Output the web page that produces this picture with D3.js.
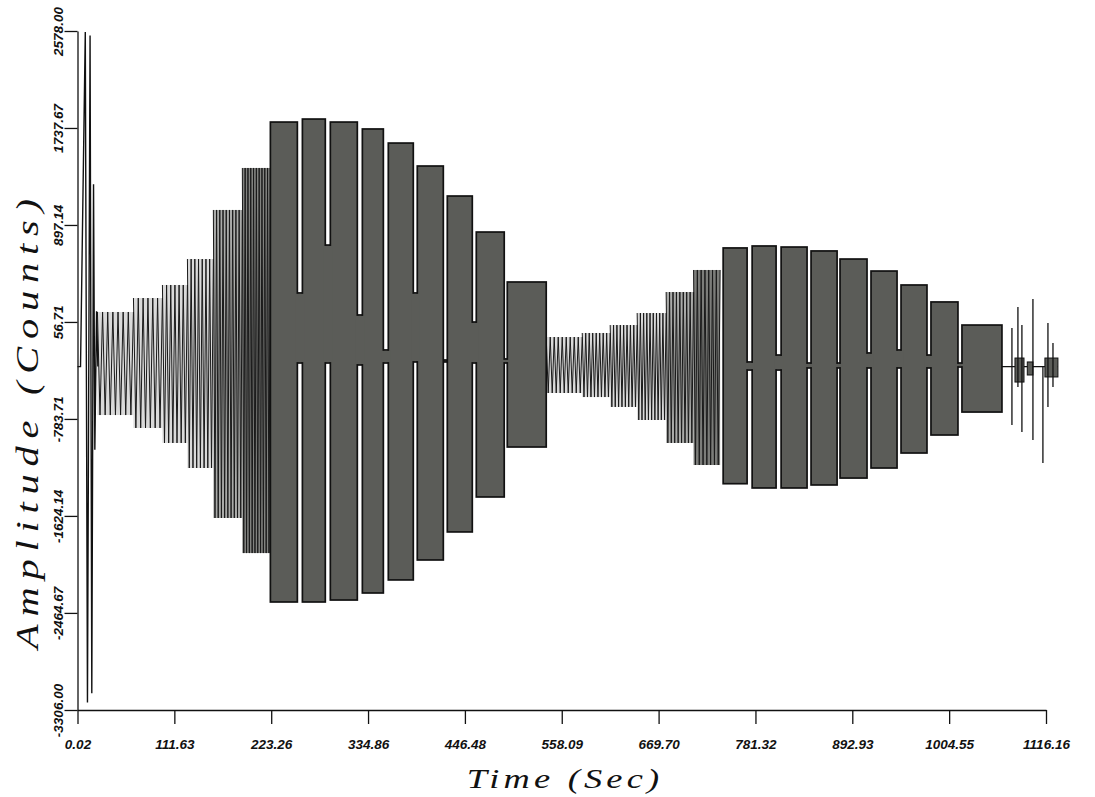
<!DOCTYPE html>
<meta charset="utf-8">
<style>
    body {
        margin: 0;
        background-color: #fff;
    }

    .axis path, .axis line {
        stroke: #111;
        stroke-width: 1.3;
    }

    .axis text {
        font-family: "Liberation Sans", Arial, sans-serif;
        font-style: italic;
        font-weight: bold;
        font-size: 13.5px;
        fill: #111;
    }

    .title {
        font-family: "Liberation Serif", serif;
        font-style: italic;
        fill: #111;
    }
</style>
<body>
<script src="https://cdnjs.cloudflare.com/ajax/libs/d3/7.8.5/d3.min.js"></script>
<script>
    // axis ticks as printed
    var xTicks = [0.02, 111.63, 223.26, 334.86, 446.48, 558.09, 669.70, 781.32, 892.93, 1004.55, 1116.16];
    var yTicks = [-3306.00, -2464.67, -1624.14, -783.71, 56.71, 897.14, 1737.67, 2578.00];

    // resting level of the trace (counts)
    var centerLevel = -330;

    // opening transient (sec, counts)
    var transT = [0, 3.5, 9, 11.5, 14.5, 16.5, 18.5, 20, 22, 23.5];
    var transV = [-330, -330, 2570, -3240, 2540, -3160, 1250, -1050, 150, -330];

    // low frequency steps where single cycles are visible
    var stepT0 = [23.0, 64.5, 97.9, 126.7, 156.6, 190.0, 540.2, 581.7, 613.9, 645.0, 678.4, 710.0];
    var stepT1 = [64.5, 97.9, 126.7, 156.6, 190.0, 222.3, 581.7, 613.9, 645.0, 678.4, 710.0, 740.6];
    var stepHi = [143, 264, 377, 602, 1027, 1391, -74, -39, 30, 134, 316, 507];
    var stepLo = [-750, -862, -992, -1209, -1642, -1946, -559, -594, -680, -793, -992, -1183];
    var stepCycles = [7, 6, 6, 7, 9, 10, 9, 8, 8, 9, 8, 7];

    // higher frequency steps, drawn solid
    var blockT0 = [222.3, 259.2, 291.4, 328.3, 358.2, 391.6, 426.2, 459.6, 495.3,
                   744.1, 777.5, 810.9, 845.4, 878.8, 914.5, 949.1, 983.6, 1019.3];
    var blockT1 = [253.4, 285.6, 322.5, 352.5, 387.0, 421.6, 455.0, 491.8, 540.2,
                   771.7, 805.1, 840.8, 875.4, 909.9, 944.5, 979.0, 1014.7, 1065.4];
    var blockHi = [1789, 1815, 1789, 1729, 1607, 1408, 1148, 836, 403,
                   698, 715, 706, 672, 602, 498, 377, 230, 30];
    var blockLo = [-2370, -2370, -2353, -2292, -2179, -2006, -1763, -1460, -1027,
                   -1345, -1382, -1382, -1356, -1296, -1209, -1079, -923, -724];

    // amplitude during the switch between block i and block i+1
    var bridgeHi = [308, 723, 117, -186, 308, -273, 56, -264, null,
                    -290, -230, -299, -299, -212, -186, -230, -299];
    var bridgeLo = [-299, -299, -316, -299, -290, -290, -299, -299, null,
                    -360, -360, -342, -342, -342, -342, -342, -334];

    // quiet tail and the spikes in it
    var flatT0 = [1065.4], flatT1 = [1130];
    var spikeT = [1076.9, 1083.8, 1088.4, 1101.1, 1112.6, 1118.4, 1124.2];
    var spikeHi = [4, 186, 30, 256, -330, 48, -126];
    var spikeLo = [-836, -507, -897, -966, -1166, -680, -507];
    var blobT0 = [1080.4, 1094.6, 1114.9];
    var blobT1 = [1090.8, 1101.1, 1129.9];
    var blobHi = [-256, -290, -256];
    var blobLo = [-464, -403, -420];

    var width = 1095, height = 797;
    var margin = {left: 77.5, right: 1046, top: 31, bottom: 710};

    var svg = d3.select("body").append("svg")
        .attr("width", width)
        .attr("height", height);

    var x = d3.scaleLinear().domain([0.02, 1116.16]).range([margin.left, margin.right]);
    var y = d3.scaleLinear().domain([-3306, 2578]).range([margin.bottom, margin.top]);

    var blockFill = "#5b5c58", ink = "#111";

    var blocks = blockT0.map(function(t, i) {
        return {t0: t, t1: blockT1[i], hi: blockHi[i], lo: blockLo[i]};
    });
    var steps = stepT0.map(function(t, i) {
        return {t0: t, t1: stepT1[i], hi: stepHi[i], lo: stepLo[i], n: stepCycles[i]};
    });
    var bridges = [];
    bridgeHi.forEach(function(h, i) {
        if (h === null) return;
        bridges.push({t0: blockT1[i], t1: blockT0[i + 1], hi: h, lo: bridgeLo[i]});
    });

    // steps get darker as they approach the size of the following block
    var shade = d3.scaleLinear().domain([0.45, 0.85]).range(["#dadada", "#767774"]).clamp(true);
    steps.forEach(function(s) {
        var next = blocks.find(function(b) { return b.t0 >= s.t1 - 1; });
        s.ratio = (s.hi - s.lo) / (next.hi - next.lo);
    });

    var g = svg.append("g");

    // flat parts of the trace
    g.selectAll("line.flat")
        .data(flatT0)
        .join("line")
        .attr("x1", function(d) { return x(d); })
        .attr("x2", function(d, i) { return x(flatT1[i]); })
        .attr("y1", y(centerLevel))
        .attr("y2", y(centerLevel))
        .attr("stroke", ink)
        .attr("stroke-width", 1.3);

    g.selectAll("rect.stepbg")
        .data(steps)
        .join("rect")
        .attr("x", function(d) { return x(d.t0); })
        .attr("width", function(d) { return x(d.t1) - x(d.t0); })
        .attr("y", function(d) { return y(d.hi); })
        .attr("height", function(d) { return y(d.lo) - y(d.hi); })
        .attr("fill", function(d) { return shade(d.ratio); });

    var line = d3.line().x(function(d) { return x(d[0]); }).y(function(d) { return y(d[1]); });

    g.selectAll("path.step")
        .data(steps)
        .join("path")
        .attr("d", function(s) {
            var pts = [], k, m = s.n * 2;
            for (k = 0; k <= m; k++) {
                pts.push([s.t0 + (s.t1 - s.t0) * k / m, k % 2 ? s.lo : s.hi]);
            }
            return line(pts);
        })
        .attr("fill", "none")
        .attr("stroke", "#1a1a1a")
        .attr("stroke-width", 1);

    // bridges (outlined), then blocks, then re-fill bridges to merge the outlines
    g.selectAll("rect.bridge")
        .data(bridges)
        .join("rect")
        .attr("x", function(d) { return x(d.t0); })
        .attr("width", function(d) { return x(d.t1) - x(d.t0); })
        .attr("y", function(d) { return y(d.hi); })
        .attr("height", function(d) { return y(d.lo) - y(d.hi); })
        .attr("fill", blockFill)
        .attr("stroke", ink)
        .attr("stroke-width", 1.7);

    g.selectAll("rect.block")
        .data(blocks)
        .join("rect")
        .attr("x", function(d) { return x(d.t0); })
        .attr("width", function(d) { return x(d.t1) - x(d.t0); })
        .attr("y", function(d) { return y(d.hi); })
        .attr("height", function(d) { return y(d.lo) - y(d.hi); })
        .attr("fill", blockFill)
        .attr("stroke", ink)
        .attr("stroke-width", 1.7);

    g.selectAll("rect.merge")
        .data(bridges.filter(function(d) { return y(d.lo) - y(d.hi) > 2; }))
        .join("rect")
        .attr("x", function(d) { return x(d.t0) - 2; })
        .attr("width", function(d) { return x(d.t1) - x(d.t0) + 4; })
        .attr("y", function(d) { return y(d.hi) + 0.9; })
        .attr("height", function(d) { return y(d.lo) - y(d.hi) - 1.8; })
        .attr("fill", blockFill);

    // opening transient
    g.append("path")
        .attr("d", line(transT.map(function(t, i) { return [t, transV[i]]; })))
        .attr("fill", "none")
        .attr("stroke", ink)
        .attr("stroke-width", 1.4);

    // tail noise
    g.selectAll("rect.blob")
        .data(blobT0)
        .join("rect")
        .attr("x", function(d) { return x(d); })
        .attr("width", function(d, i) { return x(blobT1[i]) - x(d); })
        .attr("y", function(d, i) { return y(blobHi[i]); })
        .attr("height", function(d, i) { return y(blobLo[i]) - y(blobHi[i]); })
        .attr("fill", blockFill)
        .attr("stroke", ink)
        .attr("stroke-width", 1);

    g.selectAll("line.spike")
        .data(spikeT)
        .join("line")
        .attr("x1", function(d) { return x(d); })
        .attr("x2", function(d) { return x(d); })
        .attr("y1", function(d, i) { return y(spikeHi[i]); })
        .attr("y2", function(d, i) { return y(spikeLo[i]); })
        .attr("stroke", ink)
        .attr("stroke-width", 1.3);

    // axes
    var fmt = function(d) { return d.toFixed(2); };

    svg.append("g")
        .attr("class", "axis")
        .attr("transform", "translate(0," + margin.bottom + ")")
        .call(d3.axisBottom(x).tickValues(xTicks).tickFormat(fmt)
            .tickSize(14).tickSizeOuter(0).tickPadding(15));

    svg.append("g")
        .attr("class", "axis")
        .attr("transform", "translate(" + margin.left + ",0)")
        .call(d3.axisLeft(y).tickValues(yTicks).tickFormat(fmt)
            .tickSize(13).tickSizeOuter(0))
        .selectAll(".tick text")
        .attr("transform", "rotate(-90)")
        .attr("x", 0)
        .attr("y", -15)
        .attr("dy", 0)
        .attr("text-anchor", "middle");

    // axis titles, widened like the original's math italic
    svg.append("text")
        .attr("class", "title")
        .attr("transform", "translate(563,788) scale(1.3,1)")
        .attr("text-anchor", "middle")
        .attr("font-size", 28)
        .attr("textLength", 148)
        .attr("lengthAdjust", "spacing")
        .text("Time (Sec)");

    svg.append("text")
        .attr("class", "title")
        .attr("transform", "translate(38,424) rotate(-90) scale(1.3,1)")
        .attr("text-anchor", "middle")
        .attr("font-size", 31)
        .attr("textLength", 346)
        .attr("lengthAdjust", "spacing")
        .text("Amplitude (Counts)");
</script>
</body>
</html>
